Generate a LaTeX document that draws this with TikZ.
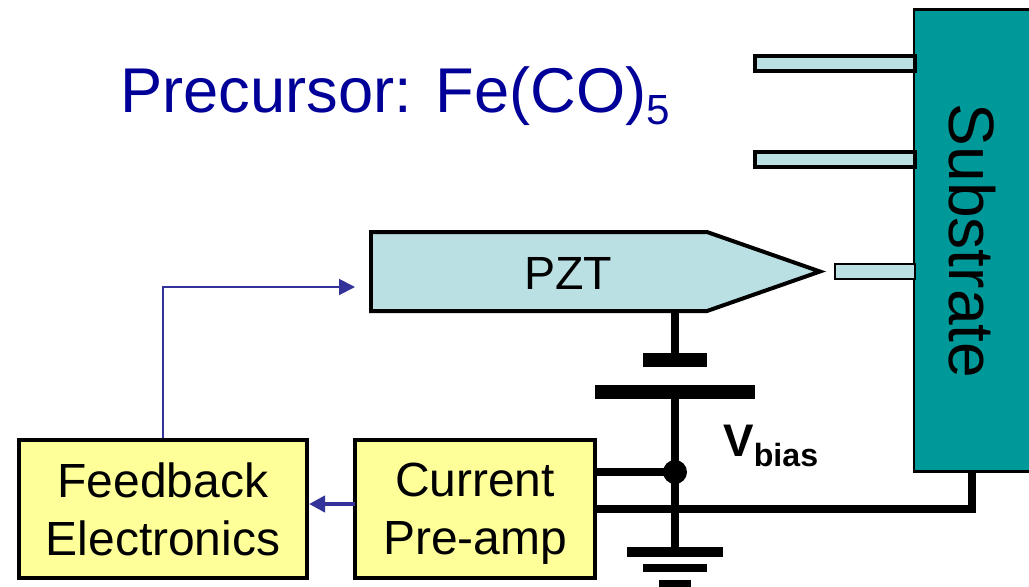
\documentclass[tikz,border=0pt]{standalone}
\usepackage{fontspec}
\setmainfont{Liberation Sans}
\definecolor{subteal}{HTML}{009999}
\definecolor{pztblue}{HTML}{BBE0E3}
\definecolor{boxyellow}{HTML}{FFFF99}
\definecolor{sigblue}{HTML}{333399}
\definecolor{titleblue}{HTML}{000099}
\tikzset{
  px/.style={line width=#1*0.5669pt},
  ampbox/.style={draw,px=4,fill=boxyellow,inner sep=0pt,align=center,minimum height=138*0.02cm,
    text depth=0pt,font=\fontsize{27.3}{33}\selectfont},
  plate/.style={fill=black,inner sep=0pt,minimum width=#1*0.02cm},
  tipbar/.style={draw=black,fill=pztblue,px=3.5},
  wire/.style={draw=black,px=8},
  sigline/.style={draw=sigblue,-{Triangle[length=16*0.02cm,width=16*0.02cm]}},
}
\usetikzlibrary{arrows.meta}
\begin{document}
\begin{tikzpicture}[x=0.02cm,y=-0.02cm]
\clip (0,0) rectangle (1029,586);
\draw[fill=subteal,px=3] (914,9) rectangle (1040,471);
\node[rotate=-90,font=\fontsize{36.5}{40}\selectfont] (substrate) at (972,241) {Substrate};
\draw[tipbar] (755,56) rectangle (915,71);
\draw[tipbar] (755,152) rectangle (915,167);
\draw[tipbar,px=2.5] (835,264) rectangle (915,279);
\node[anchor=base west,text=titleblue,inner sep=0pt,font=\fontsize{36}{40}\selectfont] (title) at (120,112)
  {Precursor: Fe(CO)\raisebox{-7pt}{\fontsize{24}{28}\selectfont 5}};
\draw[fill=pztblue,px=4] (371,232) -- (707,232) -- (820,271.5) -- (707,311) -- (371,311) -- cycle;
\node[font=\fontsize{26.5}{30}\selectfont] (pzt) at (568,273) {PZT};
\coordinate (pztbase) at (675,311);
\coordinate (pztin) at (355,287);
\node[plate=64,minimum height=13.5*0.02cm] (platea) at (675,360) {};
\node[plate=160,minimum height=14*0.02cm] (plateb) at (675,392) {};
\node[plate=96,minimum height=10*0.02cm] (gnda) at (675,552) {};
\node[plate=64,minimum height=8*0.02cm] (gndb) at (675,568) {};
\node[plate=32,minimum height=8*0.02cm] (gndc) at (675,584) {};
\node[ampbox,minimum width=288*0.02cm] (feedback) at (163,509) {Feedback\\Electronics};
\node[ampbox,minimum width=240*0.02cm] (preamp) at (475,509) {Current\\Pre-amp};
\coordinate (junction) at (675,472);
\coordinate (preout) at (preamp.east |- junction);
\coordinate (subfoot) at (972,471);
\draw[wire,px=7.5] (preout) -- (junction);
\draw[wire,px=7.5] (preamp.east) -- (preamp.east -| subfoot) -- (subfoot);
\draw[wire] (pztbase) -- (platea);
\draw[wire] (plateb) -- (gnda);
\fill (junction) circle (12);
\node[anchor=base west,inner sep=0pt,font=\fontsize{26}{30}\selectfont\bfseries] (vbias) at (723,456)
  {V\raisebox{-6pt}{\fontsize{18.3}{20}\selectfont bias}};
\draw[sigline,px=2] (feedback.north) |- (pztin);
\coordinate (prein) at (355,504);
\coordinate (fbin) at (309,504);
\draw[sigline,px=4] (prein) -- (fbin);
\end{tikzpicture}
\end{document}
